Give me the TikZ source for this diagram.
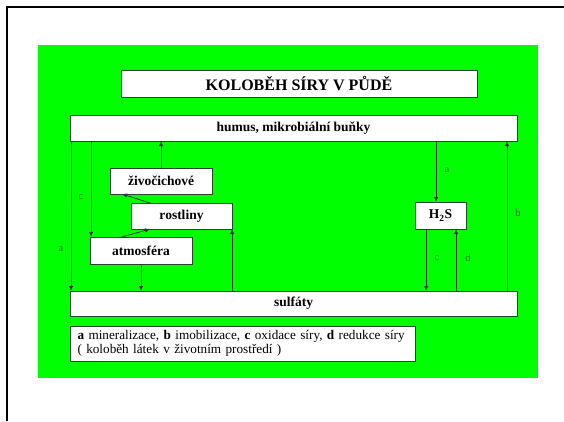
\documentclass[tikz,border=0pt]{standalone}
\usepackage{fontspec}
\setmainfont{Liberation Serif}
\usetikzlibrary{arrows.meta}
\definecolor{leaf}{RGB}{0,255,0}
\definecolor{edge}{RGB}{40,70,40}
\definecolor{tag}{RGB}{55,105,55}
\tikzset{
  box/.style={draw=edge, line width=0.8pt, fill=white, inner sep=0pt, outer sep=0pt,
    minimum height=26pt, font=\bfseries\fontsize{13.5}{15}\selectfont},
  arr/.style={draw=black!80, line width=0.8pt, -{Latex[length=5pt,width=4.5pt]}},
  tagtext/.style={text=tag, font=\fontsize{10.5}{11}\selectfont, inner sep=0pt}
}
\begin{document}
\begin{tikzpicture}[x=1pt,y=-1pt]
\useasboundingbox (0,0) rectangle (564,421);
% page frame and green panel
\draw[line width=2pt] (7,421) -- (7,7) -- (564,7);
\fill[leaf] (38,45) rectangle (538,378);

% boxes
\node[box, minimum width=356pt, minimum height=27pt, font=\bfseries\fontsize{16}{18}\selectfont] (title) at (299,83.5) {KOLOBĚH SÍRY V PŮDĚ};
\node[box, minimum width=447pt] (humus) at (293.5,128) {humus, mikrobiální buňky};
\node[box, minimum width=102pt] (ziv) at (161,181) {živočichové};
\node[box, minimum width=101pt] (rost) at (181.5,216) {rostliny};
\node[box, minimum width=102pt, minimum height=27pt] (atm) at (141,250.5) {atmosféra};
\node[box, minimum width=51pt, minimum height=27pt] (h2s) at (440.5,215.5) {H\textsubscript{2}S};
\node[box, minimum width=447pt, minimum height=25pt] (sulf) at (293.5,303.5) {sulfáty};
\node[box, minimum width=345pt, minimum height=35pt, align=left, font=\fontsize{13.2}{14}\selectfont,
      text width=330pt] (legend) at (242.5,343.5)
  {\textbf{a} mineralizace, \textbf{b} imobilizace, \textbf{c} oxidace síry, \textbf{d} redukce síry\\
   ( koloběh látek v životním prostředí )};

% x positions of the vertical connectors
\coordinate (xa) at (71,0);
\coordinate (xc) at (91,0);
\coordinate (xz) at (161,0);
\coordinate (xt) at (141,0);
\coordinate (xr) at (232,0);
\coordinate (xh) at (436,0);
\coordinate (xhc) at (426,0);
\coordinate (xhd) at (456,0);
\coordinate (xb) at (507,0);
\coordinate (xd1) at (122,0);
\coordinate (xd2) at (150,0);

% connectors
\draw[arr] (humus.south -| xa) -- (sulf.north -| xa);
\draw[arr] (humus.south -| xc) -- (atm.north -| xc);
\draw[arr] (ziv.north -| xz) -- (humus.south -| xz);
\draw[arr] (rost.north -| xd2) -- (ziv.south -| xd1);
\draw[arr] (atm.north -| xd1) -- (rost.south -| xd2);
\draw[arr] (atm.south -| xt) -- (sulf.north -| xt);
\draw[arr] (sulf.north -| xr) -- (rost.south -| xr);
\draw[arr] (humus.south -| xh) -- (h2s.north -| xh);
\draw[arr] (h2s.south -| xhc) -- (sulf.north -| xhc);
\draw[arr] (sulf.north -| xhd) -- (h2s.south -| xhd);
\draw[arr] (sulf.north -| xb) -- (humus.south -| xb);

% connector labels
\node[tagtext] (la) at (61,249) {a};
\node[tagtext] (lc) at (81,197) {c};
\node[tagtext] (lha) at (447,170) {a};
\node[tagtext] (lhc) at (437,258) {c};
\node[tagtext] (lhd) at (468,258) {d};
\node[tagtext] (lb) at (518,213) {b};
\end{tikzpicture}
\end{document}
